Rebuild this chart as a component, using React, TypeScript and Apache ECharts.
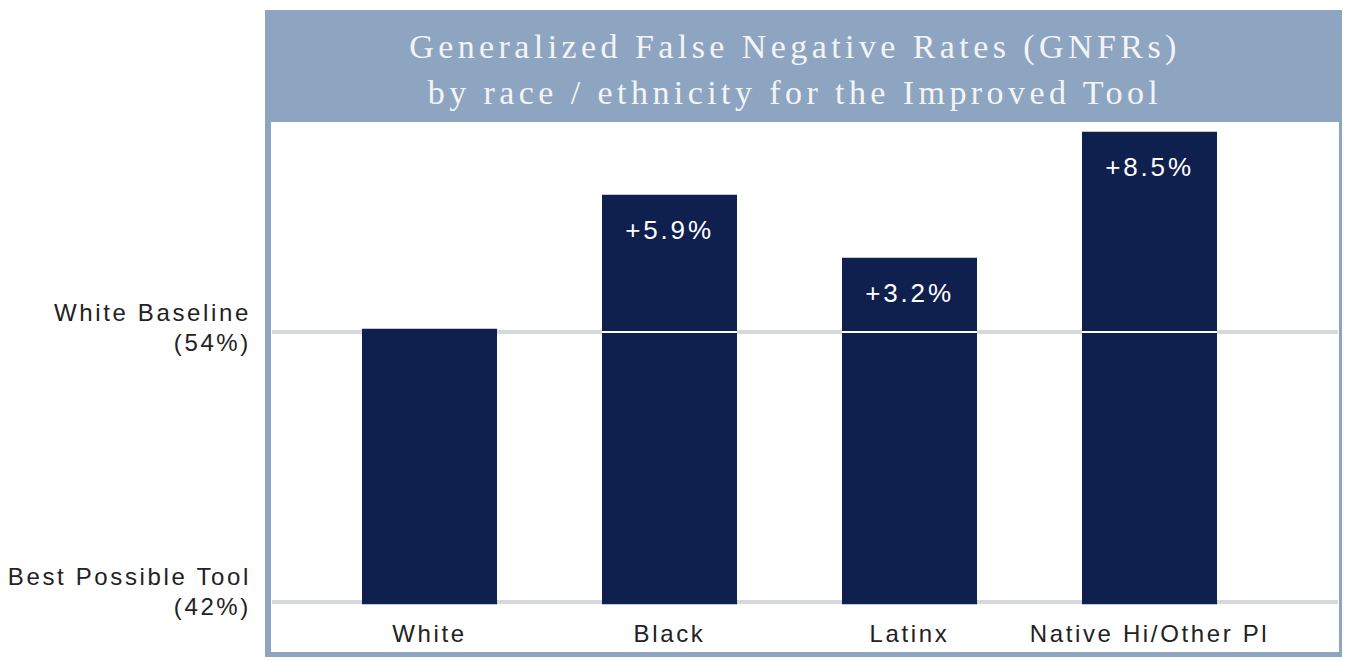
import React, { useEffect, useRef } from "react";
import * as echarts from "echarts";

const categories = ["White", "Black", "Latinx", "Native Hi/Other Pl"];
const rates = [54.15, 60.1, 57.3, 62.9];
const barLabels = ["", "+5.9%", "+3.2%", "+8.5%"];
const referenceValues = [42, 54];
const referenceLabels = ["Best Possible Tool\n(42%)", "White Baseline\n(54%)"];
const referenceLift = [22, 10];
const whiteBaseline = 54;
const titleLines = [
  "Generalized False Negative Rates (GNFRs)",
  "by race / ethnicity for the Improved Tool",
];

const SANS = "'Liberation Sans', Arial, sans-serif";
const SERIF = "'Liberation Serif', 'Times New Roman', serif";
const NAVY = "#0f1f4e";

export default function App() {
  const ref = useRef<HTMLDivElement>(null);

  useEffect(() => {
    if (!ref.current) return;
    const chart = echarts.init(ref.current, undefined, { renderer: "svg" });
    const yMin = 41.9;
    const yMax = 64;
    const gridTop = 107;
    const gridBottom = 55.75;

    chart.setOption({
      animation: false,
      backgroundColor: "#ffffff",
      title: {
        text: titleLines.join("\n"),
        left: 795,
        top: 23,
        padding: 0,
        textAlign: "center",
        textStyle: {
          fontFamily: SERIF,
          fontSize: 34,
          fontWeight: "normal",
          color: "#f3f4f6",
          lineHeight: 46,
        },
      },
      graphic: [
        {
          type: "rect",
          z: 0,
          silent: true,
          shape: { x: 265, y: 10, width: 1077, height: 647 },
          style: { fill: "#8ea5c2" },
        },
        {
          type: "rect",
          z: 0,
          silent: true,
          shape: { x: 271, y: 122, width: 1068, height: 530 },
          style: { fill: "#ffffff" },
        },
      ],
      grid: [
        { left: 309.5, right: 76.5, top: gridTop, bottom: gridBottom },
        { left: 272, right: 8, top: gridTop, bottom: gridBottom },
      ],
      xAxis: [
        {
          type: "category",
          gridIndex: 0,
          data: categories,
          axisLine: { show: false },
          axisTick: { show: false },
          axisLabel: {
            interval: 0,
            hideOverlap: false,
            margin: 17,
            fontFamily: SANS,
            fontSize: 24,
            color: "#222222",
          },
        },
        { type: "value", gridIndex: 1, min: 0, max: 1, show: false },
      ],
      yAxis: [
        { type: "value", gridIndex: 0, min: yMin, max: yMax, show: false },
        {
          type: "value",
          gridIndex: 1,
          min: yMin,
          max: yMax,
          axisLine: { show: false },
          axisTick: { show: false },
          splitLine: { show: false },
          axisLabel: {
            customValues: referenceValues,
            formatter: (v: number) => {
              const i = referenceValues.indexOf(Math.round(v));
              if (i < 0) return "";
              return referenceLabels[i] + "\n{s" + i + "|}";
            },
            rich: {
              s0: { height: referenceLift[0], lineHeight: referenceLift[0], fontSize: 1 },
              s1: { height: referenceLift[1], lineHeight: referenceLift[1], fontSize: 1 },
            },
            margin: 21,
            fontFamily: SANS,
            fontSize: 24,
            lineHeight: 30,
            color: "#222222",
            align: "right",
          },
        },
      ],
      series: [
        ...referenceValues.map((v) => ({
          type: "line",
          xAxisIndex: 1,
          yAxisIndex: 1,
          data: [
            [0, v],
            [1, v],
          ],
          symbol: "none",
          silent: true,
          z: 1,
          lineStyle: { color: "#d5d8dc", width: 4 },
        })),
        {
          type: "bar",
          xAxisIndex: 0,
          yAxisIndex: 0,
          data: rates,
          barWidth: 135,
          z: 2,
          itemStyle: { color: NAVY },
          label: {
            show: true,
            position: "insideTop",
            distance: 22,
            formatter: (p: any) => barLabels[p.dataIndex],
            color: "#ffffff",
            fontFamily: SANS,
            fontSize: 26,
          },
        },
        {
          type: "scatter",
          xAxisIndex: 0,
          yAxisIndex: 0,
          z: 5,
          silent: true,
          symbol: "rect",
          symbolSize: [135, 2],
          itemStyle: { color: "#ffffff", opacity: 1 },
          data: categories
            .map((c, i) => (barLabels[i] ? [c, whiteBaseline] : null))
            .filter((d) => d !== null),
        },
      ],
    });

    return () => chart.dispose();
  }, []);

  return (
    <>
      <style>{`.chart-root text { letter-spacing: 0.11em; } .chart-root text[style*="Serif"] { letter-spacing: 0.13em; }`}</style>
      <div
        ref={ref}
        className="chart-root"
        style={{
          position: "fixed",
          left: 0,
          top: 0,
          width: 1346,
          height: 660,
          background: "#ffffff",
        }}
      />
    </>
  );
}
